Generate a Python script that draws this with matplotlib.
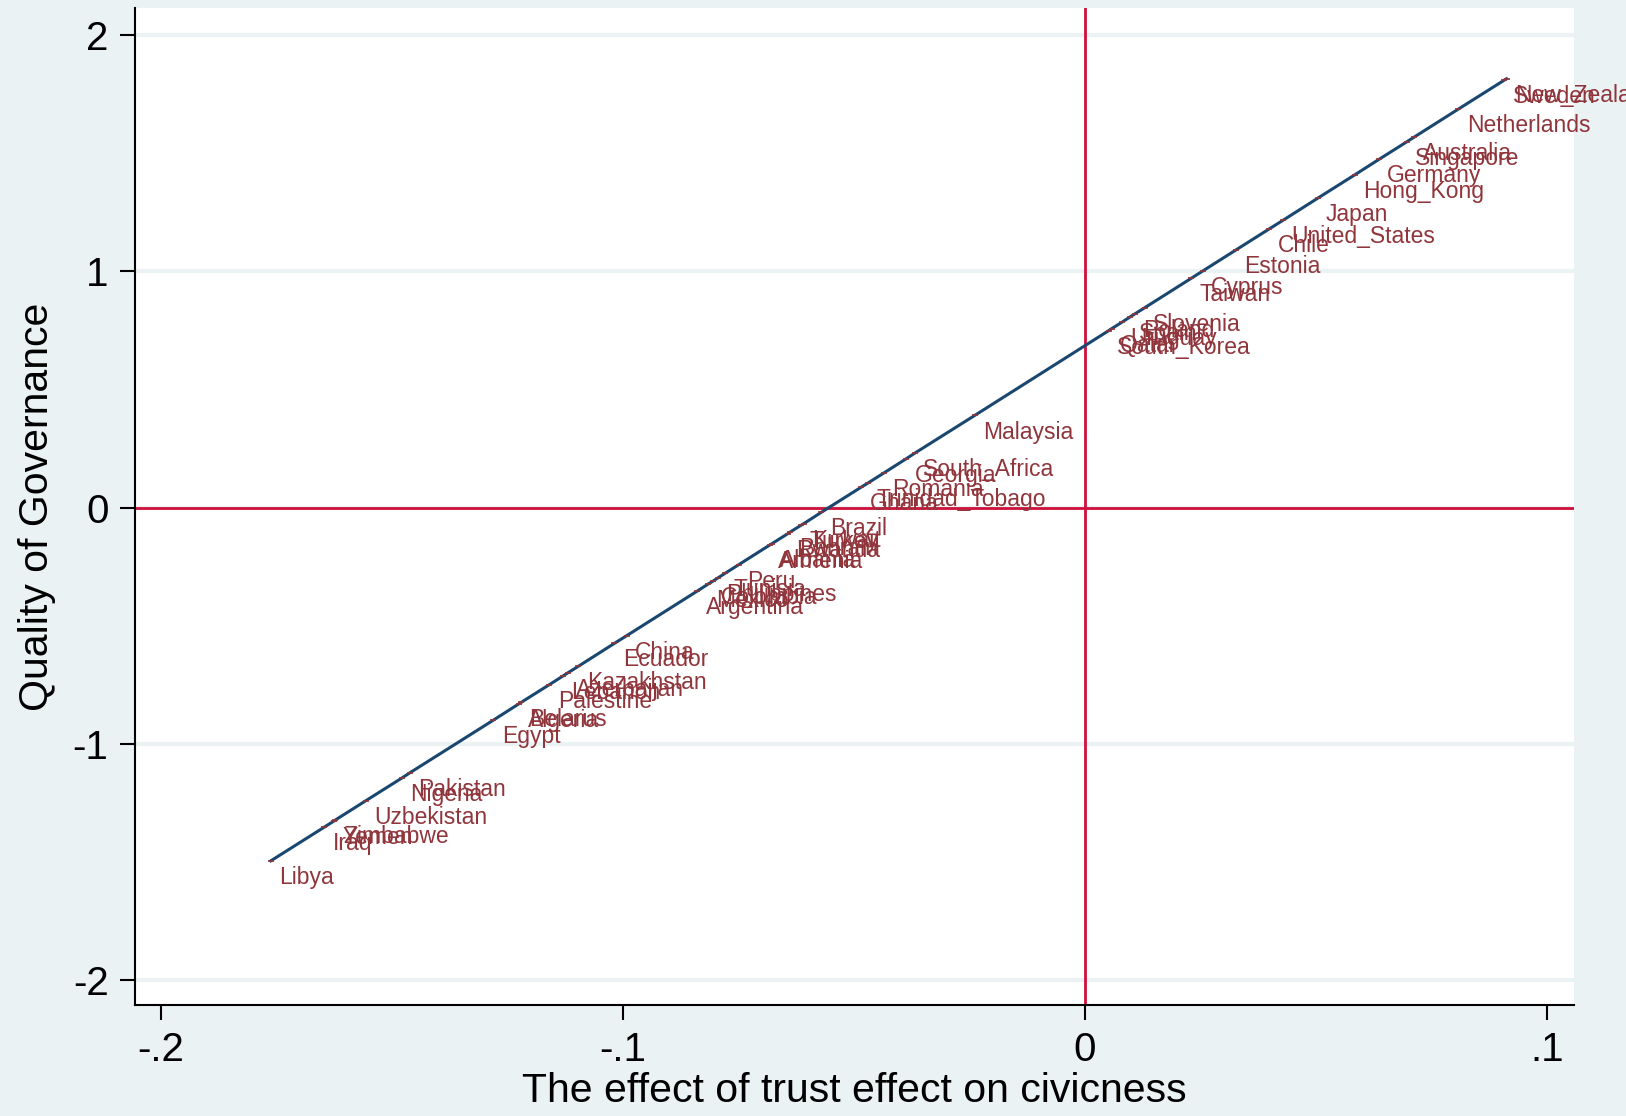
import matplotlib
matplotlib.use("Agg")
import matplotlib.pyplot as plt

plt.rcParams['font.family'] = ['Liberation Sans', 'DejaVu Sans']

# countries, x = trust effect on civicness, y = quality of governance (fitted)
countries = ["New_Zealand", "Sweden", "Netherlands", "Australia", "Singapore",
             "Germany", "Hong_Kong", "Japan", "United_States", "Chile",
             "Estonia", "Cyprus", "Taiwan", "Slovenia", "Poland", "Spain",
             "Uruguay", "Qatar", "South_Korea", "Malaysia", "South_Africa",
             "Georgia", "Romania", "Trinidad_Tobago", "Ghana", "Brazil",
             "Kuwait", "Turkey", "Bahrain", "Rwanda", "Albania", "Armenia",
             "Peru", "Tunisia", "Philippines", "Colombia", "Mexico",
             "Argentina", "China", "Ecuador", "Kazakhstan", "Azerbaijan",
             "Lebanon", "Palestine", "Belarus", "Algeria", "Egypt",
             "Pakistan", "Nigeria", "Uzbekistan", "Zimbabwe", "Yemen",
             "Iraq", "Libya"]
trust_effect = [0.0913, 0.0908, 0.0809, 0.0713, 0.0697,
                0.0637, 0.0585, 0.0504, 0.0430, 0.0399,
                0.0327, 0.0256, 0.0231, 0.0130, 0.0108, 0.0099,
                0.0081, 0.0058, 0.0052, -0.0238, -0.0368,
                -0.0386, -0.0435, -0.0469, -0.0484, -0.0570,
                -0.0608, -0.0614, -0.0637, -0.0643, -0.0677, -0.0682,
                -0.0749, -0.0778, -0.0794, -0.0805, -0.0816,
                -0.0839, -0.0991, -0.1018, -0.1096, -0.1119,
                -0.1130, -0.1159, -0.1220, -0.1224, -0.1280,
                -0.1460, -0.1478, -0.1556, -0.1623, -0.1625,
                -0.1646, -0.1762]
governance = [1.815, 1.809, 1.687, 1.568, 1.548,
              1.474, 1.409, 1.309, 1.217, 1.179,
              1.090, 1.002, 0.971, 0.846, 0.819, 0.808,
              0.785, 0.757, 0.749, 0.390, 0.230,
              0.207, 0.146, 0.104, 0.086, -0.020,
              -0.068, -0.075, -0.103, -0.111, -0.153, -0.159,
              -0.242, -0.278, -0.298, -0.312, -0.325,
              -0.354, -0.542, -0.575, -0.672, -0.700,
              -0.714, -0.750, -0.825, -0.830, -0.900,
              -1.122, -1.145, -1.241, -1.324, -1.327,
              -1.353, -1.496]

yticks = [-2, -1, 0, 1, 2]
ytick_labels = ["-2", "-1", "0", "1", "2"]
xticks = [-0.2, -0.1, 0, 0.1]
xtick_labels = ["-.2", "-.1", "0", ".1"]

bg = "#eaf2f3"
navy = "#1a476f"
maroon = "#90353b"
red = "#d0103a"

fig = plt.figure(figsize=(16.26, 11.16), dpi=100, facecolor=bg)
ax = fig.add_axes([0.083, 0.0995, 0.885, 0.8934])
ax.set_facecolor("white")

ax.set_xlim(-0.2056, 0.1059)
ax.set_ylim(-2.106, 2.115)

for yt in yticks:
    ax.axhline(yt, color=bg, lw=3, zorder=0)

ax.axhline(0, color=red, lw=2, zorder=1)
ax.axvline(0, color=red, lw=2, zorder=1)

pairs = sorted(zip(trust_effect, governance))
ax.plot([p[0] for p in pairs], [p[1] for p in pairs], color=navy, lw=2.2, zorder=2)
ax.scatter(trust_effect, governance, marker="_", s=18, color=maroon, lw=1.2, zorder=3)

for name, x, y in zip(countries, trust_effect, governance):
    ax.annotate(name, (x, y), xytext=(6, -12), textcoords="offset points",
                ha="left", va="center", fontsize=16.5, color=maroon,
                annotation_clip=False, zorder=4)

ax.set_yticks(yticks)
ax.set_yticklabels(ytick_labels)
ax.set_xticks(xticks)
ax.set_xticklabels(xtick_labels)
ax.tick_params(axis="both", direction="out", length=11, width=1.5,
               labelsize=29, pad=8, colors="black")

for side in ["top", "right"]:
    ax.spines[side].set_visible(False)
for side in ["left", "bottom"]:
    ax.spines[side].set_linewidth(1.5)
    ax.spines[side].set_color("black")

ax.set_xlabel("The effect of trust effect on civicness", fontsize=29.5, labelpad=2)
ax.set_ylabel("Quality of Governance", fontsize=29.5, labelpad=12)

fig.savefig("out.png", dpi=100, facecolor=bg)
